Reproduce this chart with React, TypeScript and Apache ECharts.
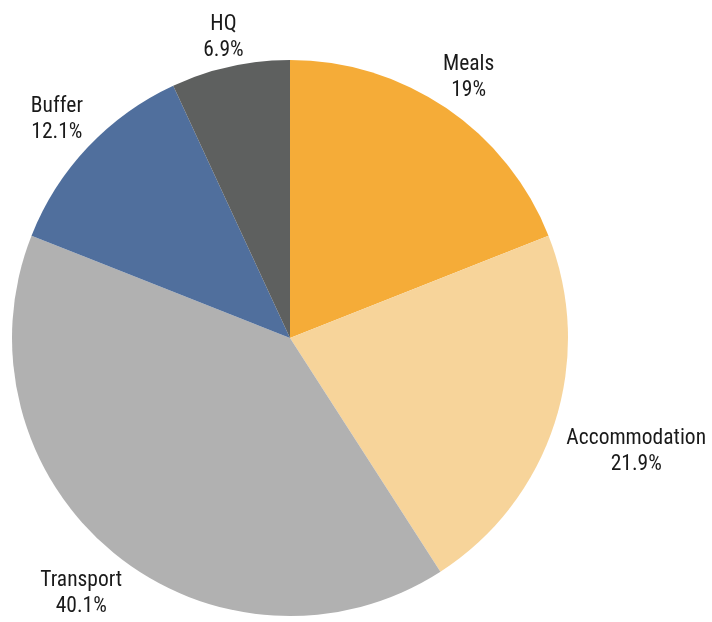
import React, { useEffect, useRef } from "react";
import * as echarts from "echarts";

const categories = ["Meals", "Accommodation", "Transport", "Buffer", "HQ"];
const shares = [19, 21.9, 40.1, 12.1, 6.9];
const shareLabels = ["19%", "21.9%", "40.1%", "12.1%", "6.9%"];
const colors = ["#F5AC38", "#F7D49A", "#B1B1B1", "#506F9D", "#5E605F"];

export default function App() {
  const ref = useRef<HTMLDivElement>(null);
  useEffect(() => {
    const chart = echarts.init(ref.current!, null, { renderer: "svg" });
    const cx = 290;
    const cy = 338;
    const r = 278;
    const gap = 15.5;
    const halfH = 12;
    const total = shares.reduce((a, b) => a + b, 0);
    const mids: number[] = [];
    let acc = 0;
    for (const v of shares) {
      mids.push(((acc + v / 2) / total) * 2 * Math.PI);
      acc += v;
    }
    chart.setOption({
      animation: false,
      series: [
        {
          type: "pie",
          center: [cx, cy],
          radius: r,
          startAngle: 90,
          clockwise: true,
          avoidLabelOverlap: false,
          emphasis: { disabled: true },
          data: categories.map((name, i) => ({
            name,
            value: shares[i],
            itemStyle: { color: colors[i] },
          })),
          label: {
            show: true,
            position: "outside",
            formatter: (p: any) => `${p.name}\n${shareLabels[p.dataIndex]}`,
            fontFamily: "'Roboto Condensed', Roboto",
            fontSize: 21.5,
            lineHeight: 26,
            color: "#1a1a1a",
          },
          labelLine: { show: false },
          labelLayout: (p: any) => {
            const a = mids[p.dataIndex];
            const dx = Math.sin(a);
            const dy = -Math.cos(a);
            const w = p.labelRect.width;
            const s = (Math.abs(dx) * w) / 2 + Math.abs(dy) * halfH;
            return {
              x: cx + dx * (r + gap + s),
              y: cy + dy * (r + gap + s),
              align: "center",
              verticalAlign: "middle",
            };
          },
        },
      ],
    });
    return () => chart.dispose();
  }, []);
  return (
    <div
      ref={ref}
      style={{ position: "fixed", left: 0, top: 0, width: 712, height: 622 }}
    />
  );
}
